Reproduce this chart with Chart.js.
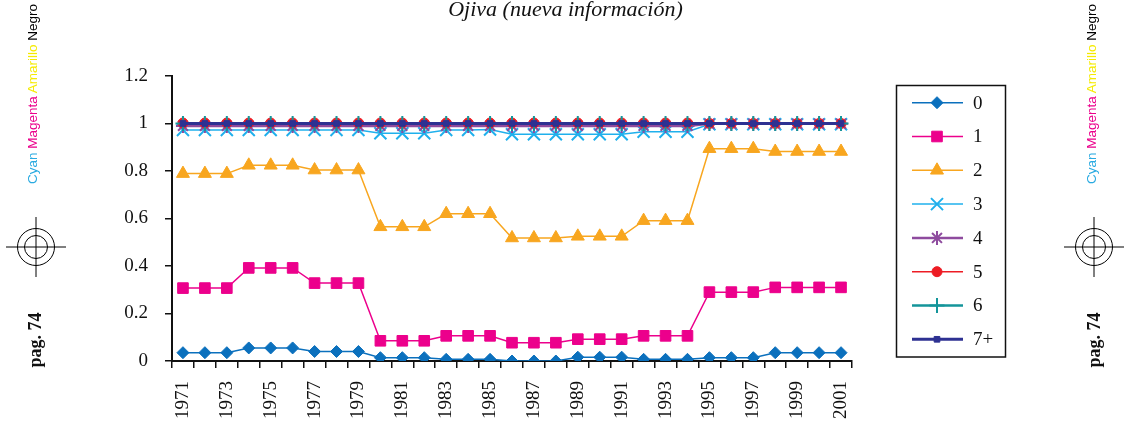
<!DOCTYPE html>
<html><head><meta charset="utf-8">
<script src="https://cdn.jsdelivr.net/npm/chart.js@4.4.1/dist/chart.umd.min.js"></script>
<style>
html,body{margin:0;padding:0;background:#fff;}
#wrap{position:relative;width:1131px;height:425px;overflow:hidden;background:#fff;}
#c{position:absolute;left:0;top:0;width:1131px;height:425px;}
.rot{position:absolute;white-space:nowrap;transform:translate(-50%,-50%) rotate(-90deg);}
.cmyk{font-family:"Liberation Sans",Arial,sans-serif;font-size:13.5px;line-height:14px;}
.pag{font-family:"Liberation Serif",serif;font-weight:bold;font-size:18px;line-height:18px;color:#111;}
#title{position:absolute;left:0;width:1131px;text-align:center;top:-3px;font-family:"Liberation Serif",serif;font-style:italic;font-size:22px;line-height:24px;color:#111;}
svg{position:absolute;left:0;top:0;}
</style></head>
<body><div id="wrap">
<canvas id="c" width="1131" height="425"></canvas>
<div id="title">Ojiva (nueva información)</div>
<div class="rot cmyk" style="left:33px;top:94px"><span style="color:#29aae1">Cyan</span> <span style="color:#ec008c">Magenta</span> <span style="color:#f5eb00">Amarillo</span> <span style="color:#000">Negro</span></div>
<div class="rot cmyk" style="left:1092px;top:94px"><span style="color:#29aae1">Cyan</span> <span style="color:#ec008c">Magenta</span> <span style="color:#f5eb00">Amarillo</span> <span style="color:#000">Negro</span></div>
<div class="rot pag" style="left:35px;top:340px">pag. 74</div>
<div class="rot pag" style="left:1094px;top:340px">pag. 74</div>
<svg width="1131" height="425">
<g fill="none" stroke="#000" stroke-width="1">
<circle cx="36" cy="247" r="18.5"/><circle cx="36" cy="247" r="11.5"/>
<line x1="6" y1="247" x2="66" y2="247"/><line x1="36" y1="217" x2="36" y2="277"/>
<circle cx="1094" cy="247" r="18.5"/><circle cx="1094" cy="247" r="11.5"/>
<line x1="1064" y1="247" x2="1124" y2="247"/><line x1="1094" y1="217" x2="1094" y2="277"/>
</g></svg>
</div>
<script>
const years = ['1971','1972','1973','1974','1975','1976','1977','1978','1979','1980','1981','1982','1983','1984','1985','1986','1987','1988','1989','1990','1991','1992','1993','1994','1995','1996','1997','1998','1999','2000','2001'];
const seriesNames = ['0','1','2','3','4','5','6','7+'];
const yTickLabels = ['0','0.2','0.4','0.6','0.8','1','1.2'];

const s0 = [0.035,0.035,0.035,0.055,0.055,0.055,0.040,0.040,0.040,0.014,0.014,0.014,0.007,0.007,0.007,0.000,0.000,0.000,0.016,0.016,0.016,0.007,0.007,0.007,0.014,0.014,0.014,0.035,0.035,0.035,0.035];
const s1 = [0.307,0.307,0.307,0.392,0.392,0.392,0.328,0.328,0.328,0.085,0.085,0.085,0.106,0.106,0.106,0.077,0.077,0.077,0.092,0.092,0.092,0.106,0.106,0.106,0.290,0.290,0.290,0.310,0.310,0.310,0.310];
const s2 = [0.789,0.789,0.789,0.824,0.824,0.824,0.804,0.804,0.804,0.565,0.565,0.565,0.620,0.620,0.620,0.518,0.518,0.518,0.525,0.525,0.525,0.591,0.591,0.591,0.894,0.894,0.894,0.882,0.882,0.882,0.882];
const s3 = [0.973,0.973,0.973,0.973,0.973,0.973,0.973,0.973,0.973,0.959,0.959,0.959,0.973,0.973,0.975,0.955,0.955,0.955,0.955,0.955,0.955,0.965,0.965,0.965,0.997,0.997,0.997,0.997,0.997,0.997,0.997];
const s4 = [0.990,0.990,0.990,0.990,0.990,0.990,0.990,0.990,0.990,0.990,0.990,0.990,0.990,0.990,0.990,0.990,0.990,0.990,0.990,0.990,0.990,0.990,0.990,0.990,0.999,0.999,0.999,0.999,0.999,0.999,0.999];
const s5 = [1.002,1.002,1.002,1.002,1.002,1.002,1.002,1.002,1.002,1.002,1.002,1.002,1.002,1.002,1.002,1.002,1.002,1.002,1.002,1.002,1.002,1.002,1.002,1.002,1.000,1.000,1.000,1.000,1.000,1.000,1.000];
const s6 = [1.000,1.000,1.000,1.000,1.000,1.000,1.000,1.000,1.000,1.000,1.000,1.000,1.000,1.000,1.000,1.000,1.000,1.000,1.000,1.000,1.000,1.000,1.000,1.000,1.000,1.000,1.000,1.000,1.000,1.000,1.000];
const s7 = [1.000,1.000,1.000,1.000,1.000,1.000,1.000,1.000,1.000,1.000,1.000,1.000,1.000,1.000,1.000,1.000,1.000,1.000,1.000,1.000,1.000,1.000,1.000,1.000,1.000,1.000,1.000,1.000,1.000,1.000,1.000];
const allSeries = [s0,s1,s2,s3,s4,s5,s6,s7];

const styles = [
  {color:'#0b70bd', point:'rectRot', r:6, lw:1.5, pbw:1},
  {color:'#ec008c', point:'rect', r:7.5, lw:1.5, pbw:1},
  {color:'#f8a61f', point:'triangle', r:7.5, lw:1.5, pbw:1},
  {color:'#1fb0ec', point:'crossRot', r:8.5, lw:1.5, pbw:2},
  {color:'#8e4b9e', point:'star', r:7, lw:2.5, pbw:2},
  {color:'#ed1c24', point:'circle', r:5, lw:1.5, pbw:1},
  {color:'#14959a', point:'cross', r:7.5, lw:2.5, pbw:2},
  {color:'#2e3192', point:'rect', r:4, lw:3, pbw:1}
];

const datasets = allSeries.map((d,i)=>({
  label: seriesNames[i], data: d,
  borderColor: styles[i].color, backgroundColor: styles[i].color,
  borderWidth: styles[i].lw, pointStyle: styles[i].point, pointRadius: styles[i].r,
  pointBackgroundColor: styles[i].color, pointBorderColor: styles[i].color,
  pointBorderWidth: styles[i].pbw, tension:0, fill:false, order: 7-i
}));

const boxLegend = {id:'boxLegend', afterDraw(chart){
  const ctx = chart.ctx; ctx.save();
  ctx.strokeStyle='#111'; ctx.lineWidth=1.5; ctx.strokeRect(896.5,85.5,109,271.5);
  chart.data.datasets.forEach((ds,i)=>{
    const y = 102.7 + i*33.8;
    ctx.strokeStyle=ds.borderColor; ctx.lineWidth=ds.borderWidth;
    ctx.beginPath(); ctx.moveTo(912,y); ctx.lineTo(963,y); ctx.stroke();
    ctx.fillStyle=ds.pointBackgroundColor; ctx.strokeStyle=ds.pointBorderColor; ctx.lineWidth=ds.pointBorderWidth;
    Chart.helpers.drawPoint(ctx,{pointStyle:ds.pointStyle, radius:ds.pointRadius, rotation:0, borderWidth:ds.pointBorderWidth}, 937, y);
    ctx.fillStyle='#111'; ctx.font='19px "Liberation Serif"'; ctx.textBaseline='middle'; ctx.textAlign='left';
    ctx.fillText(ds.label, 973, y+1);
  });
  ctx.restore();
}};

new Chart(document.getElementById('c'), {
  type:'line',
  data:{labels: years, datasets},
  options:{
    responsive:false, animation:false, devicePixelRatio:1,
    layout:{padding:{left:0,right:279,top:76,bottom:0}},
    plugins:{legend:{display:false}, tooltip:{enabled:false}, title:{display:false}},
    scales:{
      x:{type:'category', offset:true,
        grid:{display:true, offset:true, drawOnChartArea:false, drawTicks:true, tickLength:7, color:'#111', lineWidth:1.5},
        border:{display:true, color:'#111', width:2},
        ticks:{autoSkip:false, maxRotation:90, minRotation:90, padding:13, color:'#111',
          font:{family:'"Liberation Serif"', size:19},
          callback:(v,i)=> i%2===0 ? years[i] : ''},
        afterFit:(s)=>{s.height=64;}
      },
      y:{min:0, max:1.2,
        grid:{display:true, drawOnChartArea:false, drawTicks:true, tickLength:7, color:'#111', lineWidth:1.5},
        border:{display:true, color:'#111', width:2},
        ticks:{stepSize:0.2, padding:17, color:'#111', font:{family:'"Liberation Serif"', size:19},
          callback:(v,i)=> yTickLabels[i]},
        afterFit:(s)=>{s.width=172;}
      }
    }
  },
  plugins:[boxLegend]
});
</script>
</body></html>
